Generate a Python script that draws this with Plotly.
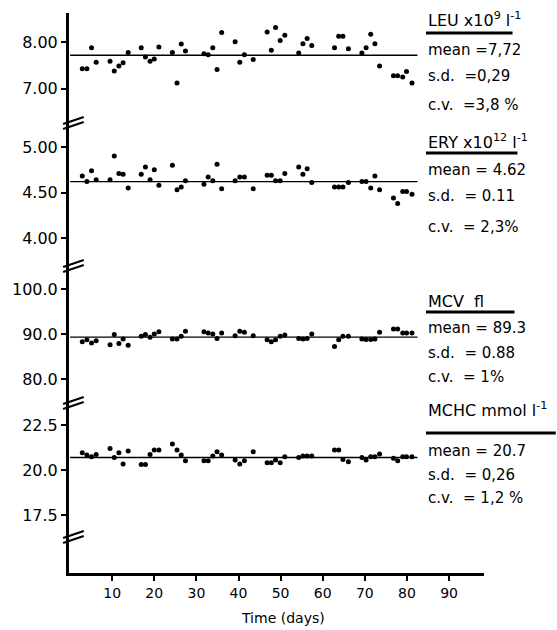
import plotly.graph_objects as go

# ---------------- data ----------------
DAYS = [2.9, 4.0, 5.1, 6.2,
        9.5, 10.5, 11.6, 12.6, 13.8,
        16.9, 17.9, 19.0, 20.0, 21.1,
        24.3, 25.4, 26.4, 27.4,
        31.8, 32.8, 33.9, 34.9, 36.0,
        39.2, 40.3, 41.4, 43.5,
        46.8, 47.8, 48.8, 49.9, 51.0,
        54.3, 55.3, 56.3, 57.4,
        62.8, 63.8, 64.8, 66.1,
        69.3, 70.3, 71.4, 72.4, 73.5,
        76.8, 77.8, 79.0, 79.9, 81.2]

LEU = [7.43, 7.43, 7.88, 7.57,
       7.59, 7.38, 7.49, 7.56, 7.78,
       7.88, 7.68, 7.59, 7.64, 7.90,
       7.78, 7.12, 7.96, 7.81,
       7.75, 7.73, 7.88, 7.41, 8.21,
       8.01, 7.57, 7.73, 7.63,
       8.22, 7.83, 8.32, 8.04, 8.15,
       7.77, 7.97, 8.08, 7.93,
       7.88, 8.13, 8.13, 7.86,
       7.77, 7.88, 8.17, 7.97, 7.49,
       7.28, 7.28, 7.25, 7.37, 7.12]

ERY = [4.68, 4.62, 4.74, 4.64,
       4.64, 4.90, 4.71, 4.70, 4.55,
       4.70, 4.78, 4.64, 4.75, 4.58,
       4.80, 4.53, 4.56, 4.63,
       4.59, 4.67, 4.63, 4.81, 4.54,
       4.63, 4.67, 4.67, 4.54,
       4.69, 4.69, 4.63, 4.63, 4.71,
       4.78, 4.70, 4.76, 4.61,
       4.56, 4.56, 4.56, 4.61,
       4.62, 4.62, 4.55, 4.68, 4.53,
       4.44, 4.38, 4.51, 4.51, 4.48]

MCV = [88.3, 88.7, 88.0, 88.5,
       87.6, 89.9, 87.9, 88.9, 87.5,
       89.5, 89.9, 89.3, 90.0, 90.5,
       88.9, 88.9, 89.5, 90.6,
       90.5, 90.2, 90.0, 89.0, 90.2,
       89.6, 90.6, 90.4, 89.6,
       88.7, 88.3, 88.7, 89.5, 89.8,
       89.0, 88.9, 89.0, 90.0,
       87.2, 88.7, 89.5, 89.5,
       88.9, 88.8, 88.8, 88.9, 90.4,
       91.1, 91.1, 90.2, 90.2, 90.2]

MCHC = [20.96, 20.83, 20.74, 20.87,
        21.20, 20.70, 20.96, 20.33, 21.06,
        20.31, 20.31, 20.87, 21.11, 21.11,
        21.44, 21.11, 20.83, 20.52,
        20.52, 20.52, 20.78, 21.02, 20.83,
        20.56, 20.33, 20.52, 21.02,
        20.41, 20.41, 20.56, 20.41, 20.74,
        20.70, 20.78, 20.78, 20.78,
        21.11, 21.11, 20.59, 20.46,
        20.69, 20.56, 20.74, 20.74, 20.89,
        20.65, 20.52, 20.74, 20.74, 20.74]

MEANS = [7.72, 4.62, 89.3, 20.7]
MEAN_LINE_X = [0, 82.5]

X_TICKS = [10, 20, 30, 40, 50, 60, 70, 80, 90]
LEU_TICKS = [7.0, 8.0]
LEU_TICKTEXT = ["7.00", "8.00"]
ERY_TICKS = [4.0, 4.5, 5.0]
ERY_TICKTEXT = ["4.00", "4.50", "5.00"]
MCV_TICKS = [80, 90, 100]
MCV_TICKTEXT = ["80.0", "90.0", "100.0"]
MCHC_TICKS = [17.5, 20.0, 22.5]
MCHC_TICKTEXT = ["17.5", "20.0", "22.5"]

LEU_TEXT = ["LEU x10<sup>9</sup> l<sup>-1</sup>", "mean =7,72", "s.d.\u00a0\u00a0=0,29", "c.v.\u00a0\u00a0=3,8 %"]
ERY_TEXT = ["ERY x10<sup>12</sup> l<sup>-1</sup>", "mean = 4.62", "s.d.\u00a0\u00a0= 0.11", "c.v.\u00a0\u00a0= 2,3%"]
MCV_TEXT = ["MCV\u00a0\u00a0fl", "mean = 89.3", "s.d.\u00a0\u00a0= 0.88", "c.v.\u00a0\u00a0= 1%"]
MCHC_TEXT = ["MCHC mmol l<sup>-1</sup>", "mean = 20.7", "s.d.\u00a0\u00a0= 0,26", "c.v.\u00a0\u00a0= 1,2 %"]

# ---------------- layout helpers (pixel -> paper) ----------------
W, H = 557, 630
ML, MR, MT, MB = 62, 73, 13, 57
PW = W - ML - MR
PH = H - MT - MB


def px_x(p):
    return (p - ML) / PW


def px_y(p):
    return (H - MB - p) / PH


FONT = "DejaVu Sans"

fig = go.Figure()

panels = [
    ("y4", LEU, MEANS[0]),
    ("y3", ERY, MEANS[1]),
    ("y2", MCV, MEANS[2]),
    ("y", MCHC, MEANS[3]),
]
for yref, vals, m in panels:
    fig.add_trace(go.Scatter(x=MEAN_LINE_X, y=[m, m], mode="lines",
                             line=dict(color="black", width=1.4),
                             yaxis=yref, xaxis="x", showlegend=False, hoverinfo="skip"))
    fig.add_trace(go.Scatter(x=DAYS, y=vals, mode="markers",
                             marker=dict(color="black", size=5, symbol="circle"),
                             yaxis=yref, xaxis="x", showlegend=False))

common_y = dict(showline=True, linecolor="black", linewidth=3, ticks="outside",
                ticklen=5, tickwidth=2, tickcolor="black", showgrid=False, zeroline=False,
                anchor="x", tickfont=dict(family=FONT, size=16, color="black"))

fig.update_layout(
    width=W, height=H,
    margin=dict(l=ML, r=MR, t=MT, b=MB),
    paper_bgcolor="white", plot_bgcolor="white",
    font=dict(family=FONT, color="black"),
    xaxis=dict(domain=[0, 1], range=[-0.25, 98.3], showline=True, linecolor="black",
               linewidth=2.5, ticks="outside", ticklen=5, tickwidth=2, tickcolor="black",
               tickvals=X_TICKS, showgrid=False, zeroline=False, anchor="y",
               tickfont=dict(family=FONT, size=14, color="black")),
    yaxis=dict(domain=[0, px_y(402)], range=[14.28, 23.78],
               tickvals=MCHC_TICKS, ticktext=MCHC_TICKTEXT, **common_y),
    yaxis2=dict(domain=[px_y(402), px_y(266)], range=[74.9, 105.1],
                tickvals=MCV_TICKS, ticktext=MCV_TICKTEXT, **common_y),
    yaxis3=dict(domain=[px_y(266), px_y(123)], range=[3.692, 5.264],
                tickvals=ERY_TICKS, ticktext=ERY_TICKTEXT, **common_y),
    yaxis4=dict(domain=[px_y(123), 1], range=[6.26, 8.63],
                tickvals=LEU_TICKS, ticktext=LEU_TICKTEXT, **common_y),
)

# axis break marks
shapes = []
for yc in [123, 266, 403, 537]:
    for off in (-2.5, 2.5):
        shapes.append(dict(type="line", xref="paper", yref="paper",
                           x0=px_x(56), y0=px_y(yc + off + 3.5),
                           x1=px_x(77), y1=px_y(yc + off - 3.5),
                           line=dict(color="black", width=2)))

# right-hand labels
label_sets = [
    (LEU_TEXT, [20, 50, 76, 105], 33, 513),
    (ERY_TEXT, [141, 170, 196, 227], 153, 518),
    (MCV_TEXT, [301, 328, 353, 377], 312, 515),
    (MCHC_TEXT, [410, 451, 475, 498], 433, 557),
]
annotations = []
for texts, ys, uy, ux in label_sets:
    for i, (t, yy) in enumerate(zip(texts, ys)):
        annotations.append(dict(text=t, x=px_x(425), y=px_y(yy), xref="paper", yref="paper",
                                xanchor="left", yanchor="middle", showarrow=False,
                                font=dict(family=FONT, size=16 if i == 0 else 15, color="black")))
    shapes.append(dict(type="line", xref="paper", yref="paper",
                       x0=px_x(425), x1=px_x(ux), y0=px_y(uy), y1=px_y(uy),
                       line=dict(color="black", width=3)))

annotations.append(dict(text="Time (days)", x=px_x(280), y=px_y(618), xref="paper", yref="paper",
                        xanchor="center", yanchor="middle", showarrow=False,
                        font=dict(family=FONT, size=14, color="black")))

fig.update_layout(shapes=shapes, annotations=annotations)

fig.write_html("out.html")
